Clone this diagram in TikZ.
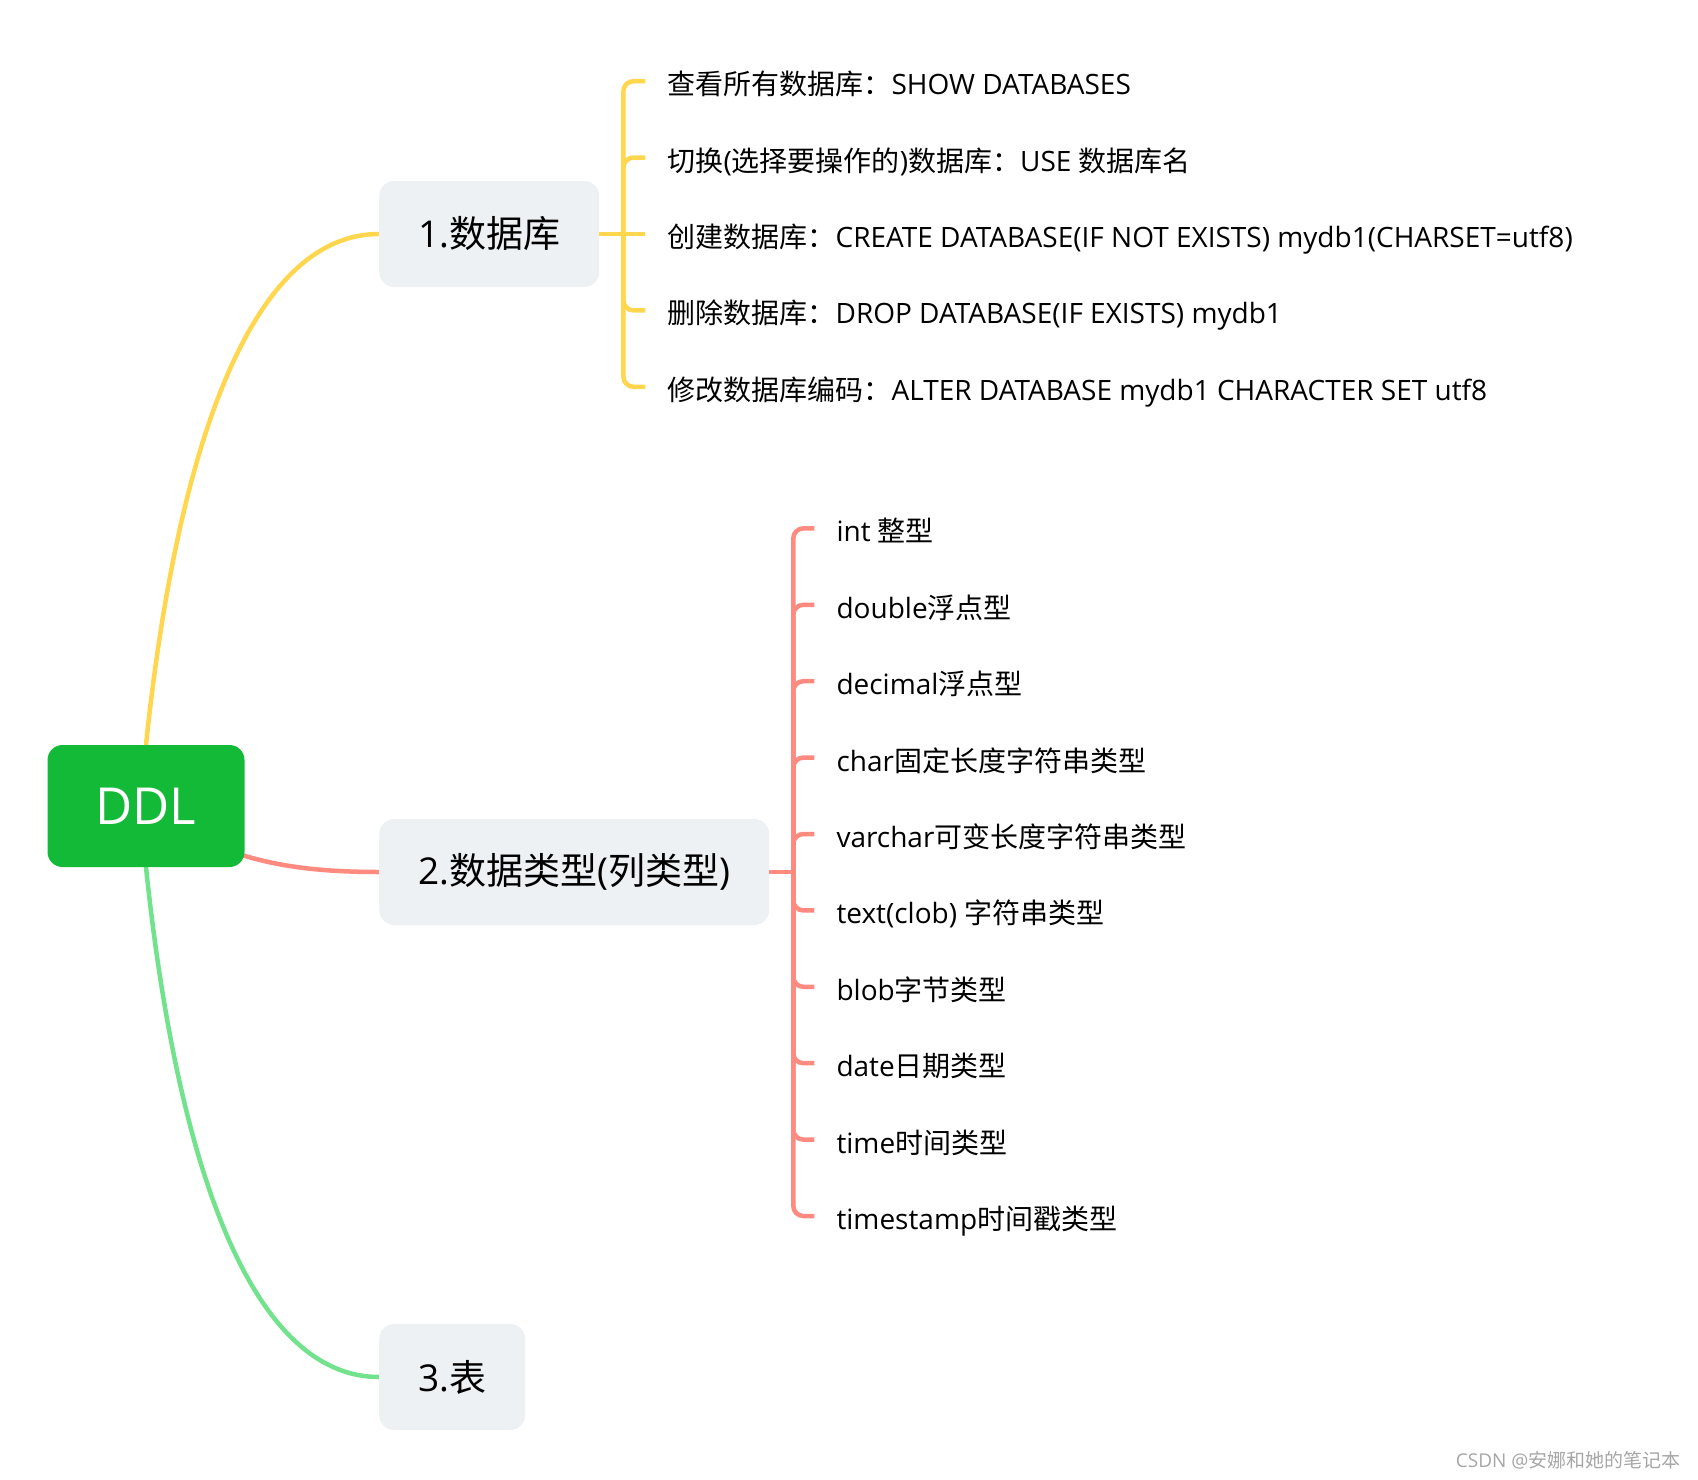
\documentclass[tikz,border=0pt]{standalone}
\usepackage{fontspec}
\setmainfont{Open Sans}
\newfontfamily\cjk{Noto Sans CJK SC}
\usetikzlibrary{positioning,backgrounds}
\definecolor{rootgreen}{HTML}{13BA37}
\definecolor{topicgray}{HTML}{EEF1F4}
\definecolor{dbyellow}{HTML}{FFD64D}
\definecolor{typered}{HTML}{FF8A80}
\definecolor{tblgreen}{HTML}{72E28C}

\begin{document}
\begin{tikzpicture}[
                x=1pt, y=-1pt,
                node distance=0pt,
                root/.style={fill=rootgreen, rounded corners=15pt,
                             minimum width=197pt, minimum height=122pt,
                             text=white, font=\fontsize{51}{60}\selectfont},
                topic/.style={fill=topicgray, rounded corners=15pt, anchor=west,
                              inner xsep=39pt, minimum height=106pt,
                              font=\fontsize{37}{44}\selectfont},
                leaf/.style={inner xsep=22pt, inner ysep=0pt, minimum height=76pt,
                             text height=27pt, text depth=0pt,
                             font=\fontsize{28}{32}\selectfont},
                link/.style={line width=4.5pt},
                branch/.style={line width=4.5pt, rounded corners=10pt},
                wmark/.style={text=gray!70, font=\fontsize{19}{22}\selectfont}
            ]
                \useasboundingbox (0,0) rectangle (1698,1480);
                \node[root] (ddl) at (146,806) {DDL};
                \node[topic] (db) at (379,234) {1.{\cjk 数据库}};
                \node[topic] (types) at (379,872) {2.{\cjk 数据类型}({\cjk 列类型})};
                \node[topic] (tbl) at (379,1377) {3.{\cjk 表}};

                \node[leaf, right=46pt of db] (q3) {{\cjk 创建数据库：}CREATE DATABASE(IF NOT EXISTS) mydb1(CHARSET=utf8)};
                \node[leaf, above=of q3.north west, anchor=south west] (q2) {{\cjk 切换}({\cjk 选择要操作的}){\cjk 数据库：}USE {\cjk 数据库名}};
                \node[leaf, above=of q2.north west, anchor=south west] (q1) {{\cjk 查看所有数据库：}SHOW DATABASES};
                \node[leaf, below=of q3.south west, anchor=north west] (q4) {{\cjk 删除数据库：}DROP DATABASE(IF EXISTS) mydb1};
                \node[leaf, below=of q4.south west, anchor=north west] (q5) {{\cjk 修改数据库编码：}ALTER DATABASE mydb1 CHARACTER SET utf8};

                \node[leaf, right=45pt of types, yshift=38pt] (t5) {varchar{\cjk 可变长度字符串类型}};
                \node[leaf, above=of t5.north west, anchor=south west] (t4) {char{\cjk 固定长度字符串类型}};
                \node[leaf, above=of t4.north west, anchor=south west] (t3) {decimal{\cjk 浮点型}};
                \node[leaf, above=of t3.north west, anchor=south west] (t2) {double{\cjk 浮点型}};
                \node[leaf, above=of t2.north west, anchor=south west] (t1) {int {\cjk 整型}};
                \node[leaf, below=of t5.south west, anchor=north west] (t6) {text(clob) {\cjk 字符串类型}};
                \node[leaf, below=of t6.south west, anchor=north west] (t7) {blob{\cjk 字节类型}};
                \node[leaf, below=of t7.south west, anchor=north west] (t8) {date{\cjk 日期类型}};
                \node[leaf, below=of t8.south west, anchor=north west] (t9) {time{\cjk 时间类型}};
                \node[leaf, below=of t9.south west, anchor=north west] (t10) {timestamp{\cjk 时间戳类型}};

                \node[wmark, anchor=east] (csdn) at (1684,1460) {CSDN @{\cjk 安娜和她的笔记本}};

                \begin{scope}[on background layer]
                \draw[link, dbyellow] (ddl.center) -- (ddl.north) .. controls +(34,-325) and +(-119,0) .. (db.west);
                \draw[link, typered] (ddl.center) .. controls +(70,50) and +(-100,0) .. (types.west);
                \draw[link, tblgreen] (ddl.center) -- (ddl.south) .. controls +(34,325) and +(-119,0) .. (tbl.west);
                \end{scope}

                \draw[link, dbyellow] (db.east) -- (q3.west);
                \coordinate[right=24pt of db.east] (dbj);
                \draw[branch, dbyellow] (dbj) |- (q1.west);
                \draw[branch, dbyellow] (dbj) |- (q2.west);
                \draw[branch, dbyellow] (dbj) |- (q4.west);
                \draw[branch, dbyellow] (dbj) |- (q5.west);

                \draw[link, typered] (types.east) -- ++(24pt,0) coordinate (tj);
                \draw[branch, typered] (tj) |- (t1.west);
                \draw[branch, typered] (tj) |- (t2.west);
                \draw[branch, typered] (tj) |- (t3.west);
                \draw[branch, typered] (tj) |- (t4.west);
                \draw[branch, typered] (tj) |- (t5.west);
                \draw[branch, typered] (tj) |- (t6.west);
                \draw[branch, typered] (tj) |- (t7.west);
                \draw[branch, typered] (tj) |- (t8.west);
                \draw[branch, typered] (tj) |- (t9.west);
                \draw[branch, typered] (tj) |- (t10.west);
            \end{tikzpicture}
\end{document}
